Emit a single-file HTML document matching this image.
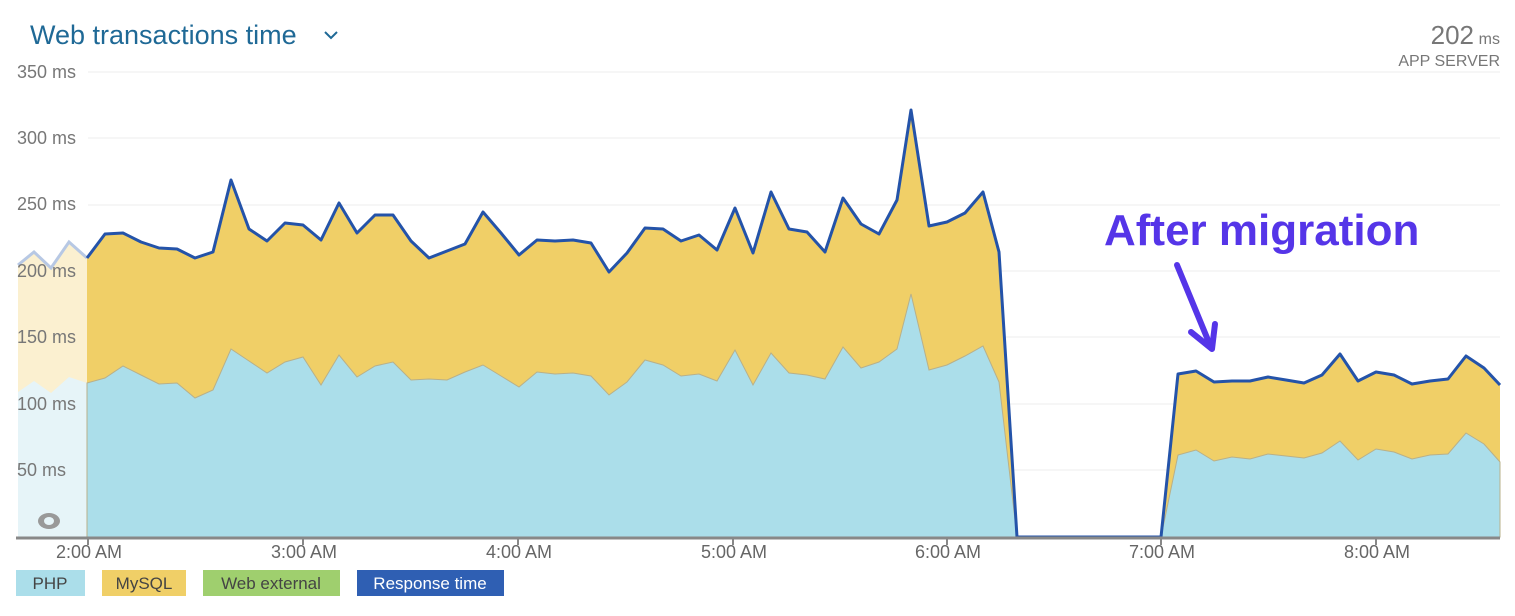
<!DOCTYPE html>
<html><head><meta charset="utf-8"><style>
body{margin:0;background:#fff;width:1515px;height:611px;overflow:hidden;font-family:"Liberation Sans",sans-serif}
</style></head><body>
<svg width="1515" height="611" xmlns="http://www.w3.org/2000/svg" font-family="Liberation Sans, sans-serif">
<text x="30" y="44" font-size="27" fill="#1f6996">Web transactions time</text>
<path d="M325 32 l6 6 l6 -6" stroke="#1f6996" stroke-width="2" fill="none"/>
<text x="1474" y="44" font-size="26" fill="#777" text-anchor="end">202</text>
<text x="1500" y="44" font-size="16" fill="#777" text-anchor="end">ms</text>
<text x="1500" y="66" font-size="16" fill="#777" text-anchor="end">APP SERVER</text>
<g stroke="#eee" stroke-width="1">
<line x1="88" x2="1500" y1="72" y2="72"/><line x1="88" x2="1500" y1="138" y2="138"/><line x1="88" x2="1500" y1="205" y2="205"/><line x1="88" x2="1500" y1="271" y2="271"/><line x1="88" x2="1500" y1="337" y2="337"/><line x1="88" x2="1500" y1="404" y2="404"/><line x1="88" x2="1500" y1="470" y2="470"/>
</g>
<polygon fill="#fbf0d0" points="18,537 18,265 34,252 51,268 69,242 87,258 87,537"/>
<polygon fill="#e6f4f8" points="18,537 18,392 34,381 51,393 69,377 87,383 87,537"/>
<polyline fill="none" stroke="#b7c8e4" stroke-width="3" points="18,265 34,252 51,268 69,242 87,258"/>
<polygon fill="#f0cf67" points="87,537 87,258 105,234 123,233 141,242 159,248 177,249 195,258 213,252 231,180 249,229 267,241 285,223 303,225 321,240 339,203 357,233 375,215 393,215 411,241 429,258 447,251 465,244 483,212 501,233 519,255 537,240 555,241 573,240 591,243 609,272 627,253 645,228 663,229 681,241 699,235 717,250 735,208 753,253 771,192 789,229 807,232 825,252 843,198 861,224 879,234 897,200 911,110 929,226 947,222 965,213 983,192 999,252 1017,537 1161,537 1178,374 1196,371 1214,382 1232,381 1250,381 1268,377 1286,380 1304,383 1322,375 1340,354 1358,381 1376,372 1394,375 1412,384 1430,381 1448,379 1466,356 1484,368 1500,385 1500,537"/>
<polygon fill="#abdeea" stroke="#b8b08a" stroke-width="1" points="87,537 87,383 105,378 123,366 141,375 159,384 177,383 195,398 213,390 231,349 249,361 267,373 285,362 303,357 321,385 339,355 357,377 375,366 393,362 411,380 429,379 447,380 465,372 483,365 501,376 519,387 537,372 555,374 573,373 591,376 609,395 627,382 645,360 663,365 681,376 699,374 717,381 735,350 753,385 771,353 789,373 807,375 825,379 843,347 861,368 879,362 897,349 911,294 929,370 947,365 965,356 983,346 999,382 1017,537 1161,537 1178,455 1196,450 1214,461 1232,457 1250,459 1268,454 1286,456 1304,458 1322,453 1340,441 1358,460 1376,449 1394,452 1412,459 1430,455 1448,454 1466,433 1484,444 1500,462 1500,537"/>
<polyline fill="none" stroke="#2453a9" stroke-width="3" stroke-linejoin="round" points="87,258 105,234 123,233 141,242 159,248 177,249 195,258 213,252 231,180 249,229 267,241 285,223 303,225 321,240 339,203 357,233 375,215 393,215 411,241 429,258 447,251 465,244 483,212 501,233 519,255 537,240 555,241 573,240 591,243 609,272 627,253 645,228 663,229 681,241 699,235 717,250 735,208 753,253 771,192 789,229 807,232 825,252 843,198 861,224 879,234 897,200 911,110 929,226 947,222 965,213 983,192 999,252 1017,537 1161,537 1178,374 1196,371 1214,382 1232,381 1250,381 1268,377 1286,380 1304,383 1322,375 1340,354 1358,381 1376,372 1394,375 1412,384 1430,381 1448,379 1466,356 1484,368 1500,385"/>
<g font-size="18" fill="#777">
<text x="17" y="78">350 ms</text><text x="17" y="144">300 ms</text><text x="17" y="210">250 ms</text><text x="17" y="277">200 ms</text><text x="17" y="343">150 ms</text><text x="17" y="410">100 ms</text><text x="17" y="476">50 ms</text>
</g>
<ellipse cx="49" cy="521" rx="11" ry="8" fill="#999"/><ellipse cx="49" cy="521" rx="5" ry="4" fill="#e6f4f8"/>
<line x1="16" x2="1500" y1="538" y2="538" stroke="#888" stroke-width="3"/>
<g stroke="#888" stroke-width="2"><line x1="88" x2="88" y1="538" y2="545"/><line x1="303" x2="303" y1="538" y2="545"/><line x1="518" x2="518" y1="538" y2="545"/><line x1="733" x2="733" y1="538" y2="545"/><line x1="947" x2="947" y1="538" y2="545"/><line x1="1161" x2="1161" y1="538" y2="545"/><line x1="1376" x2="1376" y1="538" y2="545"/></g>
<g font-size="18" fill="#666" text-anchor="middle">
<text x="89" y="558">2:00 AM</text><text x="304" y="558">3:00 AM</text><text x="519" y="558">4:00 AM</text><text x="734" y="558">5:00 AM</text><text x="948" y="558">6:00 AM</text><text x="1162" y="558">7:00 AM</text><text x="1377" y="558">8:00 AM</text>
</g>
<rect x="16" y="570" width="69" height="26" fill="#abdeea"/><text x="50" y="589" font-size="17" fill="#444" text-anchor="middle">PHP</text>
<rect x="102" y="570" width="84" height="26" fill="#f0cf67"/><text x="144" y="589" font-size="17" fill="#444" text-anchor="middle">MySQL</text>
<rect x="203" y="570" width="137" height="26" fill="#9fcf6e"/><text x="271" y="589" font-size="17" fill="#444" text-anchor="middle">Web external</text>
<rect x="357" y="570" width="147" height="26" fill="#2f5fb3"/><text x="430" y="589" font-size="17" fill="#fff" text-anchor="middle">Response time</text>
<text x="1104" y="245" font-size="44" font-weight="bold" fill="#5535e8">After migration</text>
<line x1="1177" y1="265" x2="1210" y2="345" stroke="#5535e8" stroke-width="6" stroke-linecap="round"/>
<polyline points="1191,332 1212,349 1215,324" fill="none" stroke="#5535e8" stroke-width="6" stroke-linecap="round" stroke-linejoin="round"/>
</svg>
</body></html>
